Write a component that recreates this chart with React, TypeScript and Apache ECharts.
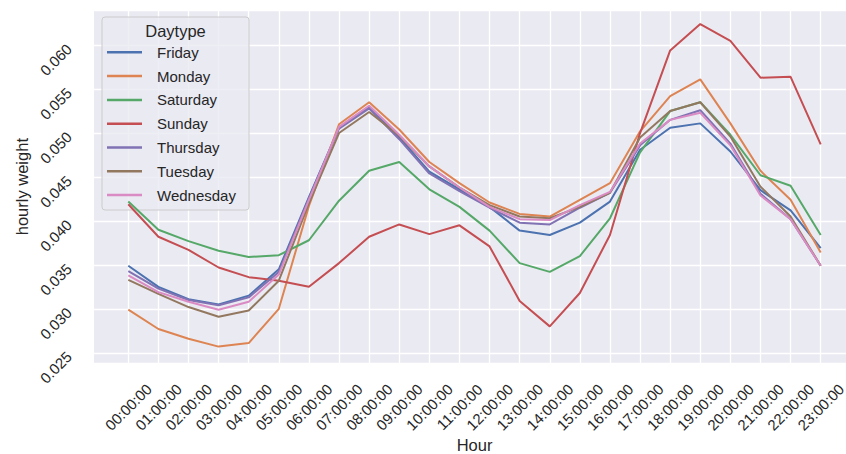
import React, { useEffect, useRef } from 'react';
import * as echarts from 'echarts';

const hours = [
  '00:00:00', '01:00:00', '02:00:00', '03:00:00', '04:00:00', '05:00:00',
  '06:00:00', '07:00:00', '08:00:00', '09:00:00', '10:00:00', '11:00:00',
  '12:00:00', '13:00:00', '14:00:00', '15:00:00', '16:00:00', '17:00:00',
  '18:00:00', '19:00:00', '20:00:00', '21:00:00', '22:00:00', '23:00:00',
];

const friday = [0.0349, 0.0325, 0.0311, 0.0305, 0.0315, 0.0345, 0.0427, 0.0506, 0.0530, 0.0495, 0.0456, 0.0436,
  0.0416, 0.0389, 0.0384, 0.0398, 0.0422, 0.0481, 0.0506, 0.0511, 0.0479, 0.0435, 0.0412, 0.0369];
const monday = [0.0299, 0.0277, 0.0266, 0.0257, 0.0261, 0.0300, 0.0417, 0.0510, 0.0535, 0.0504, 0.0467, 0.0443,
  0.0421, 0.0408, 0.0405, 0.0424, 0.0443, 0.0502, 0.0542, 0.0561, 0.0511, 0.0457, 0.0424, 0.0364];
const saturday = [0.0422, 0.0390, 0.0377, 0.0366, 0.0359, 0.0361, 0.0378, 0.0423, 0.0457, 0.0467, 0.0436, 0.0416,
  0.0389, 0.0352, 0.0342, 0.0360, 0.0403, 0.0478, 0.0525, 0.0535, 0.0498, 0.0452, 0.0440, 0.0384];
const sunday = [0.0419, 0.0382, 0.0367, 0.0347, 0.0336, 0.0332, 0.0325, 0.0352, 0.0382, 0.0396, 0.0385, 0.0395,
  0.0371, 0.0309, 0.0280, 0.0318, 0.0384, 0.0500, 0.0594, 0.0624, 0.0605, 0.0563, 0.0564, 0.0487];
const thursday = [0.0343, 0.0323, 0.0310, 0.0304, 0.0313, 0.0342, 0.0426, 0.0505, 0.0528, 0.0493, 0.0454, 0.0434,
  0.0415, 0.0398, 0.0396, 0.0415, 0.0432, 0.0486, 0.0515, 0.0526, 0.0488, 0.0431, 0.0402, 0.0349];
const tuesday = [0.0333, 0.0317, 0.0302, 0.0291, 0.0298, 0.0332, 0.0420, 0.0500, 0.0524, 0.0497, 0.0462, 0.0438,
  0.0418, 0.0405, 0.0403, 0.0416, 0.0432, 0.0495, 0.0525, 0.0535, 0.0496, 0.0439, 0.0405, 0.0349];
const wednesday = [0.0338, 0.0319, 0.0308, 0.0299, 0.0308, 0.0339, 0.0424, 0.0507, 0.0531, 0.0498, 0.0462, 0.0438,
  0.0416, 0.0402, 0.0401, 0.0418, 0.0433, 0.0488, 0.0515, 0.0523, 0.0486, 0.0429, 0.0402, 0.0349];

const seriesNames = ['Friday', 'Monday', 'Saturday', 'Sunday', 'Thursday', 'Tuesday', 'Wednesday'];
const seriesData = [friday, monday, saturday, sunday, thursday, tuesday, wednesday];
const seriesColors = ['#4C72B0', '#DD8452', '#55A868', '#C44E52', '#8172B3', '#937860', '#DA8BC3'];

const yMin = 0.0238;
const yMax = 0.0640;
const yStep = 0.005;

const FONT = '"Liberation Sans", Arial, Helvetica, sans-serif';
const TEXT = '#262626';

const tickFormatter = (v: number) => {
  const k = v / yStep;
  return Math.abs(k - Math.round(k)) < 1e-6 ? v.toFixed(3) : '';
};

export default function App() {
  const ref = useRef<HTMLDivElement>(null);

  useEffect(() => {
    document.body.style.margin = '0';
    const chart = echarts.init(ref.current!, null, { renderer: 'svg' });

    const option = {
      animation: false,
      textStyle: { fontFamily: FONT },
      grid: [
        {
          left: 94, top: 10, width: 780, height: 353.3,
          show: true, backgroundColor: '#EAEAF2', borderWidth: 0,
          containLabel: false, outerBoundsMode: 'none',
        },
        {
          left: 128.3, top: 10, width: 692.4, height: 353.3,
          show: false, containLabel: false, outerBoundsMode: 'none',
        },
        {
          left: 94, top: 24.5, width: 780, height: 353.3,
          show: false, containLabel: false, outerBoundsMode: 'none',
        },
      ],
      xAxis: [
        { type: 'value', gridIndex: 0, min: 0, max: 1, show: false },
        {
          type: 'category', gridIndex: 1, data: hours, boundaryGap: false,
          axisLine: { show: false }, axisTick: { show: false },
          splitLine: { show: true, lineStyle: { color: '#ffffff', width: 1.3 } },
          axisLabel: {
            interval: 0, rotate: 45, align: 'center', verticalAlign: 'middle',
            margin: 43.7, fontSize: 15, color: TEXT, fontFamily: FONT, hideOverlap: false,
          },
          name: 'Hour', nameLocation: 'middle', nameGap: 73, nameMoveOverlap: false,
          nameTextStyle: { fontSize: 16.5, color: TEXT, fontFamily: FONT, lineHeight: 17 },
        },
        { type: 'value', gridIndex: 2, min: 0, max: 1, show: false },
      ],
      yAxis: [
        {
          type: 'value', gridIndex: 0, min: yMin, max: yMax, splitNumber: 8,
          minInterval: yStep, maxInterval: yStep,
          axisLine: { show: false }, axisTick: { show: false },
          axisLabel: { show: false },
          splitLine: { show: true, lineStyle: { color: '#ffffff', width: 1.3 } },
          name: 'hourly weight', nameLocation: 'middle', nameRotate: 90, nameGap: 64,
          nameMoveOverlap: false,
          nameTextStyle: { fontSize: 16.5, color: TEXT, fontFamily: FONT },
        },
        {
          type: 'value', gridIndex: 1, min: yMin, max: yMax, show: false,
          splitLine: { show: false },
        },
        {
          type: 'value', gridIndex: 2, min: yMin, max: yMax, splitNumber: 8,
          minInterval: yStep, maxInterval: yStep,
          axisLine: { show: false }, axisTick: { show: false },
          splitLine: { show: false },
          axisLabel: {
            rotate: 45, align: 'center', verticalAlign: 'middle', margin: 38.2,
            fontSize: 15, color: TEXT, fontFamily: FONT, hideOverlap: false,
            formatter: tickFormatter,
          },
        },
      ],
      legend: {
        orient: 'vertical', left: 107, top: 43.3, padding: 0,
        itemWidth: 35, itemHeight: 2.5, itemGap: 5.8, icon: 'rect',
        data: seriesNames,
        textStyle: { fontSize: 15, color: TEXT, fontFamily: FONT, lineHeight: 18, padding: [0, 0, 0, 10] },
        z: 5,
      },
      graphic: [
        {
          type: 'rect', z: 3,
          shape: { x: 102, y: 17, width: 147, height: 193, r: 3 },
          style: { fill: 'rgba(234,234,242,0.8)', stroke: '#cccccc', lineWidth: 1 },
        },
        {
          type: 'text', z: 4, x: 175.5, y: 31,
          style: {
            text: 'Daytype', fontSize: 16.5, fill: TEXT, fontFamily: FONT,
            align: 'center', verticalAlign: 'middle',
          },
        },
      ],
      series: seriesNames.map((name, i) => ({
        name,
        type: 'line',
        xAxisIndex: 1,
        yAxisIndex: 1,
        data: seriesData[i],
        symbol: 'none',
        showSymbol: false,
        color: seriesColors[i],
        lineStyle: { color: seriesColors[i], width: 2 },
        emphasis: { disabled: true },
      })),
    };

    chart.setOption(option as any);
    return () => chart.dispose();
  }, []);

  return <div ref={ref} style={{ width: 846, height: 454 }} />;
}
